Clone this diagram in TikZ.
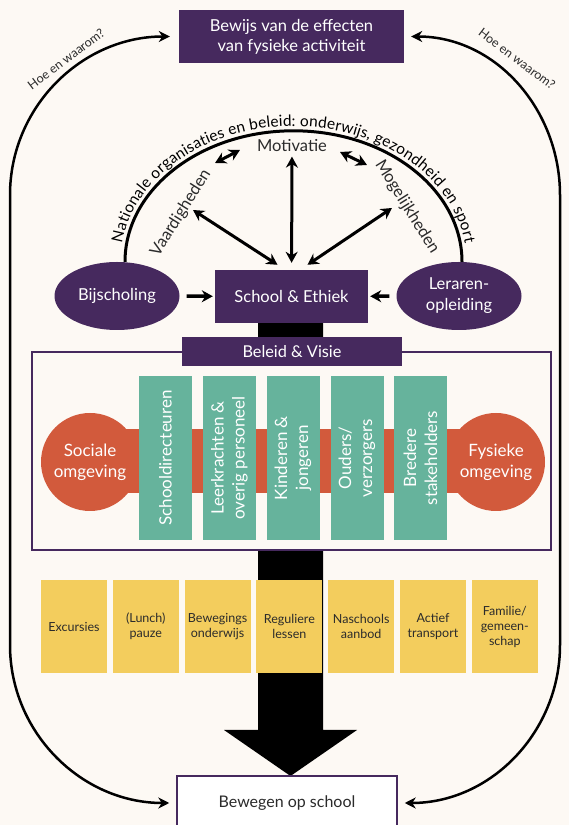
\documentclass[tikz,border=0pt]{standalone}
\usepackage{fontspec}
\setmainfont{Lato}
\usetikzlibrary{shapes.geometric, arrows.meta, decorations.text}
\definecolor{purp}{HTML}{46295E}
\definecolor{tealg}{HTML}{66B39C}
\definecolor{orng}{HTML}{D25A3C}
\definecolor{yell}{HTML}{F3CD5D}
\definecolor{cream}{HTML}{FDF9F4}
\definecolor{ink}{HTML}{2B2B2B}
\tikzstyle{darkbox} = [rectangle, fill=purp, text=white, align=center, inner sep=0pt, font=\fontsize{16.5}{20}\selectfont]
\tikzstyle{blob} = [ellipse, fill=purp, text=white, align=center, inner sep=0pt, minimum width=125pt, minimum height=68pt, font=\fontsize{16.5}{21}\selectfont]
\tikzstyle{env} = [circle, fill=orng, text=white, align=center, inner sep=0pt, minimum size=98pt, font=\fontsize{17}{21}\selectfont]
\tikzstyle{actor} = [rectangle, fill=tealg, text=white, align=center, rotate=90, inner sep=0pt, minimum width=164pt, minimum height=53pt, font=\fontsize{17}{21}\selectfont]
\tikzstyle{setting} = [rectangle, fill=yell, text=ink, align=center, inner sep=0pt, minimum width=66pt, minimum height=93pt, font=\fontsize{12.5}{15}\selectfont]
\tikzstyle{label} = [text=ink, font=\fontsize{16.5}{16.5}\selectfont]
\tikzstyle{arrow} = [line width=3pt,<->,>={Stealth[length=11pt,width=12pt]}]
\tikzstyle{push} = [line width=3.5pt,->,>={Stealth[length=11pt,width=12pt]}]
\tikzstyle{feedback} = [line width=2.5pt,<->,>={Stealth[length=11pt,width=11pt]}]

\begin{document}
\begin{tikzpicture}[x=1pt, y=1pt, node distance=71.8pt]
\useasboundingbox (0,0) rectangle (569,825);
\fill[cream] (0,0) rectangle (569,825);

% big black arrow behind everything
\fill[black] (258,502) -- (323,502) -- (323,95) -- (357,95) -- (290.5,49) -- (224,95) -- (258,95) -- cycle;

\node (top) [darkbox, minimum width=225pt, minimum height=53pt] at (291.5,788.5) {Bewijs van de effecten\\van fysieke activiteit};
\node (bot) [rectangle, draw=purp, line width=1.5pt, fill=white, minimum width=220pt, minimum height=54pt, text=ink, font=\fontsize{16}{17}\selectfont] at (287,22) {Bewegen op school};

% school level
\node (school) [darkbox, minimum width=153pt, minimum height=53pt] at (291.5,528.5) {School \& Ethiek};
\node (bij) [blob] at (117,529) {Bijscholing};
\node (ler) [blob] at (459,529) {Leraren-\\opleiding};
\node (mot) [label] at (292,679) {Motivatie};
\node (vaard) [label, rotate=58] at (181,612) {Vaardigheden};
\node (mog) [label, rotate=-58] at (407,618) {Mogelijkheden};

\draw [line width=3pt] ([xshift=8pt]bij.north) arc[start angle=180, end angle=0, x radius=168.5, y radius=131];
\path [decorate, decoration={text along path, text align=center, raise=4.5pt,
  text={|\fontsize{15.5}{15.5}\selectfont|Nationale organisaties en beleid: onderwijs, gezondheid en sport}}]
  ([xshift=8pt]bij.north) arc[start angle=180, end angle=0, x radius=168.5, y radius=131];

\coordinate (vm1) at (215,662);
\coordinate (vm2) at (240,675);
\coordinate (mm1) at (340,673);
\coordinate (mm2) at (367,660);
\coordinate (vaardtip) at (193,615);
\coordinate (mogtip) at (392,617);
\draw [arrow] (vm1) -- (vm2);
\draw [arrow] (mm1) -- (mm2);
\draw [arrow, shorten <=1pt, shorten >=7pt] (mot) -- (school);
\draw [arrow] (vaardtip) -- ([xshift=-14pt,yshift=5pt]school.north);
\draw [arrow] (mogtip) -- ([xshift=16pt,yshift=5pt]school.north);
\draw [push, shorten <=7pt, shorten >=2pt] (bij) -- (school);
\draw [push, shorten <=7pt, shorten >=2pt] (ler) -- (school);

% beleid frame
\draw [purp, line width=2pt, fill=cream] (32,275) rectangle (551,473);
\node (visie) [darkbox, minimum width=220pt, minimum height=29pt, font=\fontsize{16.3}{17}\selectfont] at (292,473.5) {Beleid \& Visie};
\fill [orng] (90,332) rectangle (496,396);
\node (sociaal) [env] at (90,363) {Sociale\\omgeving};
\node (fysiek) [env] at (496,363) {Fysieke\\omgeving};
\node (dir) [actor] at (165.5,367) {Schooldirecteuren};
\node (leer) [actor] at (229.5,367) {Leerkrachten \&\\overig personeel};
\node (kind) [actor] at (293,367) {Kinderen \&\\jongeren};
\node (oud) [actor] at (357,367) {Ouders/\\verzorgers};
\node (stake) [actor] at (420.5,367) {Bredere\\stakeholders};

% settings
\node (exc) [setting] at (74,198.5) {Excursies};
\node (lunch) [setting, right of=exc] {(Lunch)\\pauze};
\node (bew) [setting, right of=lunch] {Bewegings\\onderwijs};
\node (reg) [setting, right of=bew] {Reguliere\\lessen};
\node (nas) [setting, right of=reg] {Naschools\\aanbod};
\node (act) [setting, right of=nas] {Actief\\transport};
\node (fam) [setting, right of=act] {Familie/\\gemeen-\\schap};

% feedback loops
\draw [feedback] ([xshift=-9pt]top.west) to[out=180, in=90] (10,630) -- (10,180) to[out=-90, in=180] ([xshift=-7pt]bot.west);
\draw [feedback] ([xshift=7pt]top.east) to[out=0, in=90] (560,630) -- (560,180) to[out=-90, in=0] ([xshift=7pt]bot.east);
\node (hoeL) [rotate=37, text=ink, font=\fontsize{12.5}{12.5}\selectfont] at (66,766) {Hoe en waarom?};
\node (hoeR) [rotate=-37, text=ink, font=\fontsize{12.5}{12.5}\selectfont] at (517,766) {Hoe en waarom?};
\end{tikzpicture}
\end{document}
